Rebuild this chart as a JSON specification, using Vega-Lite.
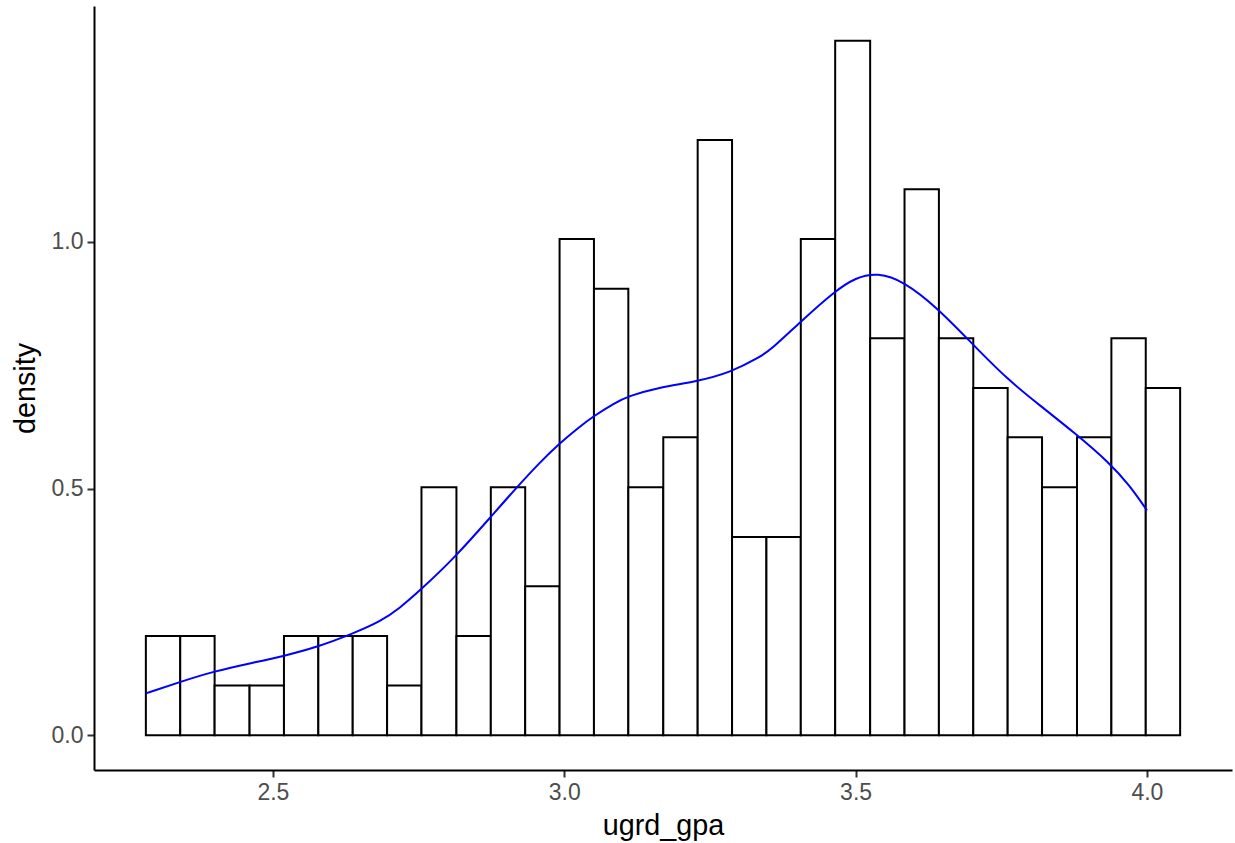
{
  "$schema": "https://vega.github.io/schema/vega-lite/v6.json",
  "width": 1138,
  "height": 764,
  "autosize": {"type": "none"},
  "padding": {"left": 94, "top": 6, "right": 3, "bottom": 73},
  "background": "white",
  "config": {
    "view": {"stroke": null},
    "font": "Liberation Sans",
    "axis": {
      "grid": false,
      "domainColor": "#000000",
      "domainWidth": 2,
      "tickColor": "#333333",
      "tickWidth": 2,
      "tickSize": 7,
      "labelColor": "#4D4D4D",
      "labelFont": "Liberation Sans",
      "labelFontSize": 23,
      "labelPadding": 4,
      "titleFont": "Liberation Sans",
      "titleFontSize": 28.75,
      "titleFontWeight": "normal",
      "titleColor": "#000000"
    }
  },
  "datasets": {
    "bins": [
      {"bin_start": 2.282, "bin_end": 2.341, "density": 0.201},
      {"bin_start": 2.341, "bin_end": 2.400, "density": 0.201},
      {"bin_start": 2.400, "bin_end": 2.460, "density": 0.101},
      {"bin_start": 2.460, "bin_end": 2.519, "density": 0.101},
      {"bin_start": 2.519, "bin_end": 2.578, "density": 0.201},
      {"bin_start": 2.578, "bin_end": 2.637, "density": 0.201},
      {"bin_start": 2.637, "bin_end": 2.696, "density": 0.201},
      {"bin_start": 2.696, "bin_end": 2.755, "density": 0.101},
      {"bin_start": 2.755, "bin_end": 2.815, "density": 0.503},
      {"bin_start": 2.815, "bin_end": 2.874, "density": 0.201},
      {"bin_start": 2.874, "bin_end": 2.933, "density": 0.503},
      {"bin_start": 2.933, "bin_end": 2.992, "density": 0.302},
      {"bin_start": 2.992, "bin_end": 3.051, "density": 1.006},
      {"bin_start": 3.051, "bin_end": 3.110, "density": 0.905},
      {"bin_start": 3.110, "bin_end": 3.170, "density": 0.503},
      {"bin_start": 3.170, "bin_end": 3.229, "density": 0.604},
      {"bin_start": 3.229, "bin_end": 3.288, "density": 1.207},
      {"bin_start": 3.288, "bin_end": 3.347, "density": 0.402},
      {"bin_start": 3.347, "bin_end": 3.406, "density": 0.402},
      {"bin_start": 3.406, "bin_end": 3.465, "density": 1.006},
      {"bin_start": 3.465, "bin_end": 3.525, "density": 1.408},
      {"bin_start": 3.525, "bin_end": 3.584, "density": 0.805},
      {"bin_start": 3.584, "bin_end": 3.643, "density": 1.107},
      {"bin_start": 3.643, "bin_end": 3.702, "density": 0.805},
      {"bin_start": 3.702, "bin_end": 3.761, "density": 0.704},
      {"bin_start": 3.761, "bin_end": 3.820, "density": 0.604},
      {"bin_start": 3.820, "bin_end": 3.880, "density": 0.503},
      {"bin_start": 3.880, "bin_end": 3.939, "density": 0.604},
      {"bin_start": 3.939, "bin_end": 3.998, "density": 0.805},
      {"bin_start": 3.998, "bin_end": 4.057, "density": 0.704}
    ],
    "curve": [
      {"gpa": 2.282, "density": 0.085},
      {"gpa": 2.340, "density": 0.108},
      {"gpa": 2.400, "density": 0.130},
      {"gpa": 2.461, "density": 0.146},
      {"gpa": 2.517, "density": 0.160},
      {"gpa": 2.577, "density": 0.179},
      {"gpa": 2.637, "density": 0.206},
      {"gpa": 2.684, "density": 0.230},
      {"gpa": 2.718, "density": 0.258},
      {"gpa": 2.752, "density": 0.293},
      {"gpa": 2.812, "density": 0.360},
      {"gpa": 2.872, "density": 0.440},
      {"gpa": 2.915, "density": 0.498},
      {"gpa": 2.958, "density": 0.553},
      {"gpa": 2.991, "density": 0.591},
      {"gpa": 3.027, "density": 0.626},
      {"gpa": 3.049, "density": 0.646},
      {"gpa": 3.087, "density": 0.674},
      {"gpa": 3.109, "density": 0.687},
      {"gpa": 3.164, "density": 0.706},
      {"gpa": 3.227, "density": 0.717},
      {"gpa": 3.286, "density": 0.736},
      {"gpa": 3.335, "density": 0.766},
      {"gpa": 3.356, "density": 0.783},
      {"gpa": 3.407, "density": 0.840},
      {"gpa": 3.464, "density": 0.900},
      {"gpa": 3.500, "density": 0.928},
      {"gpa": 3.538, "density": 0.938},
      {"gpa": 3.582, "density": 0.921},
      {"gpa": 3.641, "density": 0.866},
      {"gpa": 3.699, "density": 0.795},
      {"gpa": 3.761, "density": 0.721},
      {"gpa": 3.816, "density": 0.669},
      {"gpa": 3.876, "density": 0.613},
      {"gpa": 3.936, "density": 0.552},
      {"gpa": 3.970, "density": 0.507},
      {"gpa": 4.000, "density": 0.456}
    ]
  },
  "layer": [
    {
      "data": {"name": "bins"},
      "mark": {"type": "bar", "fill": "white", "stroke": "black", "strokeWidth": 2},
      "encoding": {
        "x": {
          "field": "bin_start", "type": "quantitative",
          "scale": {"domain": [2.193, 4.146], "nice": false, "zero": false},
          "axis": {"values": [2.5, 3.0, 3.5, 4.0], "format": ".1f", "title": "ugrd_gpa", "titlePadding": 7}
        },
        "x2": {"field": "bin_end"},
        "y": {
          "field": "density", "type": "quantitative",
          "scale": {"domain": [-0.0704, 1.4784], "nice": false, "zero": false},
          "axis": {"values": [0, 0.5, 1.0], "format": ".1f", "title": "density", "titlePadding": 11}
        },
        "y2": {"datum": 0}
      }
    },
    {
      "data": {"name": "curve"},
      "mark": {"type": "line", "color": "#0000FF", "strokeWidth": 2, "interpolate": "basis"},
      "encoding": {
        "x": {"field": "gpa", "type": "quantitative"},
        "y": {"field": "density", "type": "quantitative"}
      }
    }
  ]
}
